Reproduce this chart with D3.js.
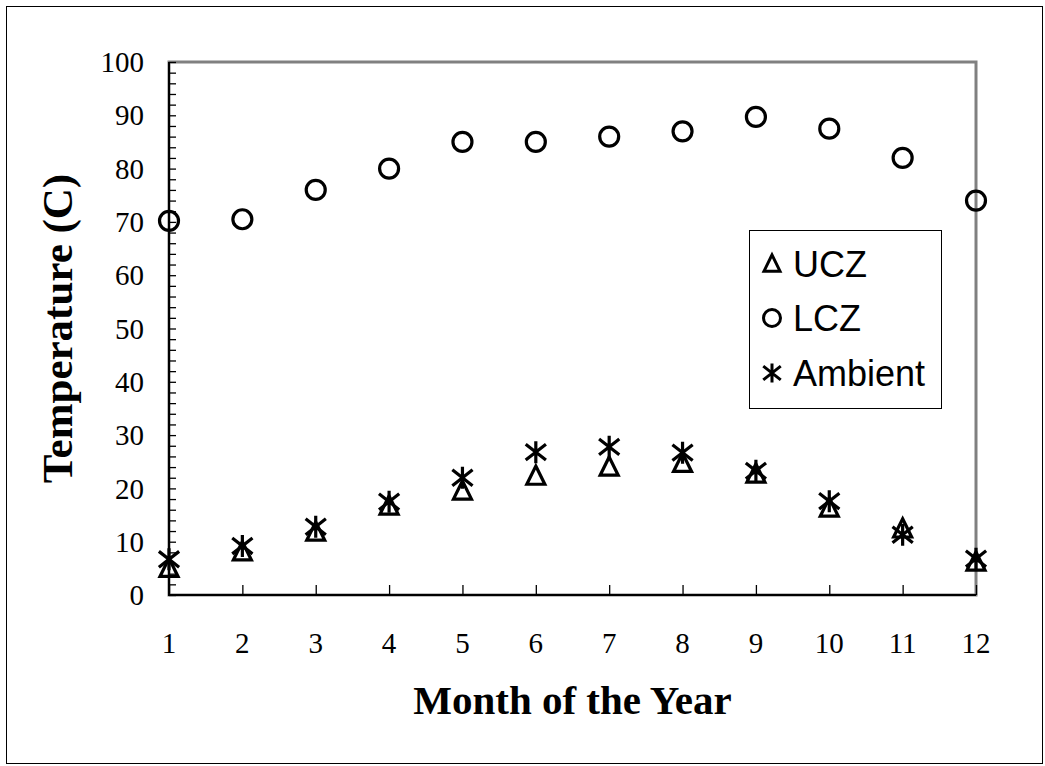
<!DOCTYPE html>
<html>
<head>
<meta charset="utf-8">
<script src="https://cdn.jsdelivr.net/npm/d3@7"></script>
<style>
  body { margin: 0; background: #fff; }
  svg { display: block; }
</style>
</head>
<body>
<div id="chart"></div>
<script>
var svgWidth = 1045;
var svgHeight = 766;

// data
var months = [1, 2, 3, 4, 5, 6, 7, 8, 9, 10, 11, 12];
var ucz = [5, 8.1, 11.8, 16.7, 19.5, 22.3, 24, 24.7, 22.7, 16.3, 12.4, 6.2];
var lcz = [70.2, 70.5, 76, 80, 85, 85, 86, 87, 89.7, 87.5, 82, 74];
var ambient = [6.7, 9.2, 12.8, 17.5, 22, 26.8, 27.8, 26.7, 23.3, 17.6, 11.3, 6.8];
var yTicks = [0, 10, 20, 30, 40, 50, 60, 70, 80, 90, 100];
var legendLabels = ["UCZ", "LCZ", "Ambient"];

var margin = { top: 62, right: 69, bottom: 171, left: 169 };
var width = svgWidth - margin.left - margin.right;
var height = svgHeight - margin.top - margin.bottom;

var serif = "Liberation Serif, Times New Roman, serif";

var svg = d3.select("#chart")
  .append("svg")
  .attr("width", svgWidth)
  .attr("height", svgHeight);

// outer frame
svg.append("rect")
  .attr("x", 6.5).attr("y", 6.5)
  .attr("width", 1036).attr("height", 757)
  .attr("fill", "none")
  .attr("stroke", "#000")
  .attr("stroke-width", 1);

var chartGroup = svg.append("g")
  .attr("transform", `translate(${margin.left}, ${margin.top})`);

var x = d3.scaleLinear().domain([1, 12]).range([0, width]);
var y = d3.scaleLinear().domain([0, 100]).range([height, 0]);

// plot area border (top/right grey)
chartGroup.append("rect")
  .attr("x", 0).attr("y", 0)
  .attr("width", width).attr("height", height)
  .attr("fill", "none")
  .attr("stroke", "#808080")
  .attr("stroke-width", 3);

// y axis: minor ticks every 2, pointing inward
var yAxis = chartGroup.append("g")
  .call(d3.axisRight(y).tickValues(d3.range(0, 101, 2)).tickSize(7).tickFormat(""));
yAxis.select(".domain").remove();
yAxis.selectAll(".tick line").attr("stroke", "#000").attr("stroke-width", 1.3);

chartGroup.append("g")
  .selectAll("text")
  .data(yTicks)
  .enter()
  .append("text")
  .attr("x", -25)
  .attr("y", d => y(d))
  .attr("dy", "0.35em")
  .attr("text-anchor", "end")
  .attr("font-family", serif)
  .attr("font-size", "29px")
  .text(d => d);

// x axis: ticks pointing up
var xAxis = chartGroup.append("g")
  .attr("transform", `translate(0, ${height})`)
  .call(d3.axisTop(x).tickValues(months).tickSize(10).tickFormat(""));
xAxis.select(".domain").remove();
xAxis.selectAll(".tick line").attr("stroke", "#000").attr("stroke-width", 1.3);

chartGroup.append("g")
  .selectAll("text")
  .data(months)
  .enter()
  .append("text")
  .attr("x", d => x(d))
  .attr("y", height + 58)
  .attr("text-anchor", "middle")
  .attr("font-family", serif)
  .attr("font-size", "29px")
  .text(d => d);

// axis lines
chartGroup.append("line")
  .attr("x1", 0).attr("x2", 0).attr("y1", 0).attr("y2", height + 1)
  .attr("stroke", "#000").attr("stroke-width", 2);
chartGroup.append("line")
  .attr("x1", -1).attr("x2", width).attr("y1", height).attr("y2", height)
  .attr("stroke", "#000").attr("stroke-width", 2);

// marker shapes
function triPath(s) {
  var h = s * 0.9;
  return `M0,${-h / 2 - 2}L${s / 2},${h / 2}L${-s / 2},${h / 2}Z`;
}
function starPath(s) {
  var r = s / 2;
  var dx = r * 0.92, dy = r * 0.72;
  return `M0,${-r}L0,${r}M${-dx},${-dy}L${dx},${dy}M${-dx},${dy}L${dx},${-dy}`;
}

var markerStroke = 3.2;

// LCZ circles
chartGroup.append("g")
  .selectAll("circle")
  .data(months)
  .enter()
  .append("circle")
  .attr("cx", d => x(d))
  .attr("cy", (d, i) => y(lcz[i]))
  .attr("r", 9.5)
  .attr("fill", "none")
  .attr("stroke", "#000")
  .attr("stroke-width", markerStroke);

// UCZ triangles
chartGroup.append("g")
  .selectAll("path")
  .data(months)
  .enter()
  .append("path")
  .attr("transform", (d, i) => `translate(${x(d)}, ${y(ucz[i])})`)
  .attr("d", triPath(18))
  .attr("fill", "none")
  .attr("stroke", "#000")
  .attr("stroke-width", markerStroke);

// Ambient asterisks
chartGroup.append("g")
  .selectAll("path")
  .data(months)
  .enter()
  .append("path")
  .attr("transform", (d, i) => `translate(${x(d)}, ${y(ambient[i])})`)
  .attr("d", starPath(22))
  .attr("fill", "none")
  .attr("stroke", "#000")
  .attr("stroke-width", markerStroke);

// legend
var legend = svg.append("g");
legend.append("rect")
  .attr("x", 749.5).attr("y", 230.5)
  .attr("width", 192).attr("height", 178)
  .attr("fill", "#fff")
  .attr("stroke", "#000")
  .attr("stroke-width", 1);

var legendY = [264, 318, 373];
legendLabels.forEach(function(lab, i) {
  var g = legend.append("g").attr("transform", `translate(772, ${legendY[i]})`);
  if (i === 0) {
    g.append("path").attr("d", triPath(16)).attr("fill", "none")
      .attr("stroke", "#000").attr("stroke-width", 3);
  } else if (i === 1) {
    g.append("circle").attr("r", 8.5).attr("fill", "none")
      .attr("stroke", "#000").attr("stroke-width", 3);
  } else {
    g.append("path").attr("d", starPath(19)).attr("fill", "none")
      .attr("stroke", "#000").attr("stroke-width", 3);
  }
  legend.append("text")
    .attr("x", 793)
    .attr("y", legendY[i])
    .attr("dy", "0.36em")
    .attr("font-family", "Liberation Sans, Arial, sans-serif")
    .attr("font-size", "36px")
    .text(lab);
});

// axis titles
svg.append("text")
  .attr("transform", `translate(72, ${margin.top + height / 2}) rotate(-90)`)
  .attr("text-anchor", "middle")
  .attr("font-family", serif)
  .attr("font-weight", "bold")
  .attr("font-size", "43px")
  .text("Temperature (C)");

svg.append("text")
  .attr("x", margin.left + width / 2)
  .attr("y", 714)
  .attr("text-anchor", "middle")
  .attr("font-family", serif)
  .attr("font-weight", "bold")
  .attr("font-size", "41px")
  .text("Month of the Year");
</script>
</body>
</html>
